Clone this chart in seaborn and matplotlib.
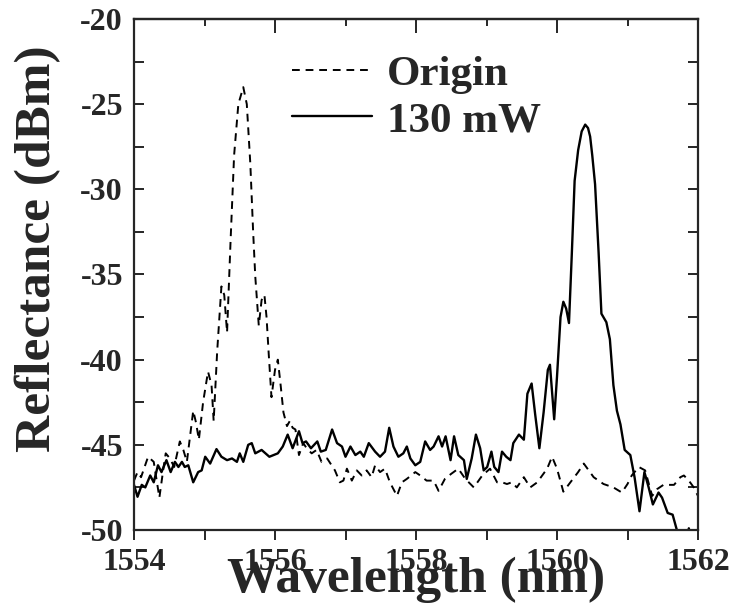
import numpy as np
import pandas as pd
import matplotlib
matplotlib.use("Agg")
import matplotlib.pyplot as plt
import seaborn as sns
from matplotlib.ticker import MultipleLocator
from matplotlib.lines import Line2D

# ---- data ----
origin_wl = [1554.00, 1554.05, 1554.10, 1554.20, 1554.28, 1554.36, 1554.42, 1554.45, 1554.51,
             1554.57, 1554.65, 1554.70, 1554.75, 1554.84, 1554.88, 1554.92, 1554.98, 1555.05,
             1555.10, 1555.13, 1555.18, 1555.24, 1555.28, 1555.32, 1555.37, 1555.42, 1555.48,
             1555.55, 1555.60, 1555.65, 1555.69, 1555.72, 1555.77, 1555.81, 1555.85, 1555.88,
             1555.91, 1555.95, 1556.00, 1556.04, 1556.08, 1556.12, 1556.17, 1556.21, 1556.25,
             1556.29, 1556.34, 1556.40, 1556.45, 1556.52, 1556.59, 1556.66, 1556.74, 1556.85,
             1556.92, 1556.97, 1557.02, 1557.09, 1557.16, 1557.23, 1557.30, 1557.37, 1557.42,
             1557.49, 1557.56, 1557.63, 1557.73, 1557.80, 1557.87, 1557.99, 1558.06, 1558.15,
             1558.25, 1558.32, 1558.41, 1558.50, 1558.60, 1558.70, 1558.82, 1558.94, 1559.05,
             1559.15, 1559.22, 1559.29, 1559.36, 1559.43, 1559.53, 1559.62, 1559.72, 1559.86,
             1559.93, 1560.00, 1560.09, 1560.19, 1560.30, 1560.38, 1560.45, 1560.52, 1560.66,
             1560.80, 1560.92, 1561.00, 1561.06, 1561.16, 1561.25, 1561.35, 1561.42, 1561.51,
             1561.66, 1561.75, 1561.80, 1561.87, 1561.94, 1562.00]
origin_db = [-47.1, -46.6, -46.9, -45.7, -46.0, -48.1, -46.3, -45.5, -45.8,
             -46.3, -44.8, -45.3, -46.0, -43.0, -43.7, -44.7, -42.5, -40.7,
             -41.5, -43.6, -39.5, -35.7, -36.2, -38.4, -33.0, -28.0, -25.0,
             -24.0, -25.0, -28.5, -32.5, -35.1, -38.0, -36.5, -36.2, -37.5,
             -39.6, -42.2, -40.6, -40.0, -41.5, -43.1, -43.9, -43.6, -44.0,
             -44.1, -45.6, -44.9, -45.2, -45.5, -45.3, -46.0, -45.8, -46.5,
             -47.2, -47.1, -46.4, -47.1, -46.5, -46.8, -46.5, -46.9, -46.2,
             -46.6, -46.4, -47.2, -48.0, -47.2, -47.0, -46.6, -46.8, -47.1,
             -47.1, -47.7, -47.0, -46.7, -46.4, -47.0, -47.5, -46.8, -46.4,
             -47.2, -47.2, -47.3, -47.2, -47.5, -46.9, -47.5, -47.2, -46.4,
             -45.7, -46.4, -47.75, -47.2, -46.6, -46.1, -46.5, -46.9, -47.3,
             -47.5, -47.8, -47.3, -46.8, -46.3, -46.5, -48.0, -47.6, -47.35,
             -47.35, -46.9, -46.8, -47.1, -47.5, -48.0]

pump_wl = [1554.00, 1554.05, 1554.11, 1554.16, 1554.23, 1554.28, 1554.34, 1554.39, 1554.46,
           1554.52, 1554.58, 1554.63, 1554.68, 1554.72, 1554.77, 1554.84, 1554.91, 1554.96,
           1555.01, 1555.08, 1555.17, 1555.24, 1555.32, 1555.39, 1555.46, 1555.50, 1555.55,
           1555.62, 1555.67, 1555.72, 1555.81, 1555.92, 1556.04, 1556.11, 1556.18, 1556.25,
           1556.34, 1556.39, 1556.44, 1556.51, 1556.60, 1556.65, 1556.72, 1556.81, 1556.88,
           1556.95, 1557.00, 1557.07, 1557.14, 1557.21, 1557.26, 1557.33, 1557.42, 1557.49,
           1557.56, 1557.62, 1557.68, 1557.75, 1557.82, 1557.87, 1557.92, 1557.99, 1558.06,
           1558.13, 1558.20, 1558.25, 1558.32, 1558.37, 1558.42, 1558.49, 1558.54, 1558.60,
           1558.68, 1558.72, 1558.79, 1558.85, 1558.91, 1558.96, 1559.01, 1559.07, 1559.11,
           1559.17, 1559.22, 1559.28, 1559.34, 1559.38, 1559.46, 1559.53, 1559.58, 1559.64,
           1559.69, 1559.75, 1559.81, 1559.87, 1559.90, 1559.96, 1560.00, 1560.05, 1560.09,
           1560.13, 1560.17, 1560.21, 1560.25, 1560.30, 1560.35, 1560.40, 1560.44, 1560.47,
           1560.50, 1560.54, 1560.59, 1560.63, 1560.70, 1560.75, 1560.80, 1560.85, 1560.90,
           1560.96, 1561.04, 1561.10, 1561.17, 1561.24, 1561.30, 1561.36, 1561.44, 1561.49,
           1561.57, 1561.64, 1561.70, 1561.73, 1561.80, 1561.85, 1561.87, 1561.90, 1561.95,
           1562.00]
pump_db = [-47.35, -48.05, -47.35, -47.5, -46.8, -47.2, -46.2, -46.6, -45.9,
           -46.6, -46.0, -46.3, -46.0, -46.3, -46.2, -47.2, -46.6, -46.5,
           -45.7, -46.1, -45.25, -45.7, -45.9, -45.8, -46.0, -45.5, -46.0,
           -45.0, -44.9, -45.5, -45.3, -45.7, -45.5, -45.1, -44.4, -45.2,
           -44.2, -44.9, -44.8, -45.2, -44.8, -45.4, -45.3, -44.1, -44.9,
           -45.1, -45.7, -45.1, -45.6, -45.4, -45.7, -44.9, -45.4, -45.7,
           -45.4, -44.0, -45.1, -45.7, -45.5, -45.1, -45.8, -46.2, -46.0,
           -44.8, -45.3, -45.1, -44.5, -45.1, -44.5, -45.9, -44.5, -45.6,
           -45.9, -47.0, -45.8, -44.4, -45.2, -46.5, -46.3, -45.4, -46.3,
           -46.6, -45.4, -45.7, -45.9, -44.9, -44.4, -44.7, -42.0, -41.4,
           -43.2, -45.2, -43.1, -40.6, -40.3, -43.5, -41.0, -37.5, -36.6,
           -37.0, -37.85, -33.8, -29.5, -27.7, -26.6, -26.2, -26.4, -26.9,
           -28.0, -29.7, -33.7, -37.3, -37.8, -38.8, -41.5, -43.0, -43.8,
           -45.3, -45.6, -46.9, -48.9, -46.6, -47.5, -48.5, -47.8, -48.1,
           -49.0, -49.1, -50.0, -50.5, -51.0, -50.3, -49.9, -50.5, -51.5,
           -52.0]

series_labels = ["Origin", "130 mW"]
x_ticks = [1554, 1556, 1558, 1560, 1562]
y_ticks = [-50, -45, -40, -35, -30, -25, -20]

df = pd.concat([
    pd.DataFrame({"wl": origin_wl, "db": origin_db, "series": series_labels[0]}),
    pd.DataFrame({"wl": pump_wl, "db": pump_db, "series": series_labels[1]}),
])

sns.set_style("ticks")
plt.rcParams["font.family"] = ["Liberation Serif", "DejaVu Serif"]
plt.rcParams["font.weight"] = "bold"

fig = plt.figure(figsize=(7.33, 6.09), dpi=100)
ax = fig.add_axes([134/733, 1 - 530/609, (698 - 134)/733, (530 - 19)/609])

sns.lineplot(data=df[df.series == series_labels[0]], x="wl", y="db", ax=ax,
             color="black", lw=1.4, dashes=False, estimator=None, sort=False)
ax.lines[-1].set_dashes((4, 3))
sns.lineplot(data=df[df.series == series_labels[1]], x="wl", y="db", ax=ax,
             color="black", lw=1.7, estimator=None, sort=False)

ax.set_xlim(1554, 1562)
ax.set_ylim(-50, -20)
ax.set_xticks(x_ticks)
ax.set_yticks(y_ticks)
ax.set_xticklabels([str(v) for v in x_ticks])
ax.set_yticklabels([str(v) for v in y_ticks])
ax.xaxis.set_minor_locator(MultipleLocator(1))
ax.yaxis.set_minor_locator(MultipleLocator(2.5))

for s in ax.spines.values():
    s.set_linewidth(1.6)
    s.set_visible(True)

ax.tick_params(axis="x", which="both", direction="out", length=7, width=1.4,
               labelsize=23, pad=6, top=False)
ax.tick_params(axis="y", which="both", direction="in", length=7, width=1.4,
               labelsize=23, pad=8, left=True, right=True)
for lab in ax.get_xticklabels() + ax.get_yticklabels():
    lab.set_fontweight("bold")

top = ax.secondary_xaxis("top")
top.set_xticks(x_ticks)
top.xaxis.set_minor_locator(MultipleLocator(1))
top.tick_params(which="major", direction="in", length=10, width=1.4, labeltop=False)
top.tick_params(which="minor", direction="in", length=5, width=1.4)
top.spines["top"].set_linewidth(1.6)

ax.set_xlabel("Wavelength (nm)", fontsize=37, fontweight="bold")
ax.set_ylabel("Reflectance (dBm)", fontsize=37, fontweight="bold")
ax.xaxis.set_label_coords(0.5, -0.052)
ax.yaxis.set_label_coords(-0.13, 0.55)

handles = [Line2D([], [], color="black", lw=1.4, dashes=(4, 3)),
           Line2D([], [], color="black", lw=1.7)]
ax.legend(handles, series_labels, loc="upper left", bbox_to_anchor=(0.28, 0.93),
          frameon=False, prop={"family": "Liberation Serif", "weight": "bold", "size": 31},
          handlelength=1.85, handletextpad=0.35, labelspacing=0.17,
          borderpad=0, borderaxespad=0)

fig.savefig("out.png", dpi=100)
